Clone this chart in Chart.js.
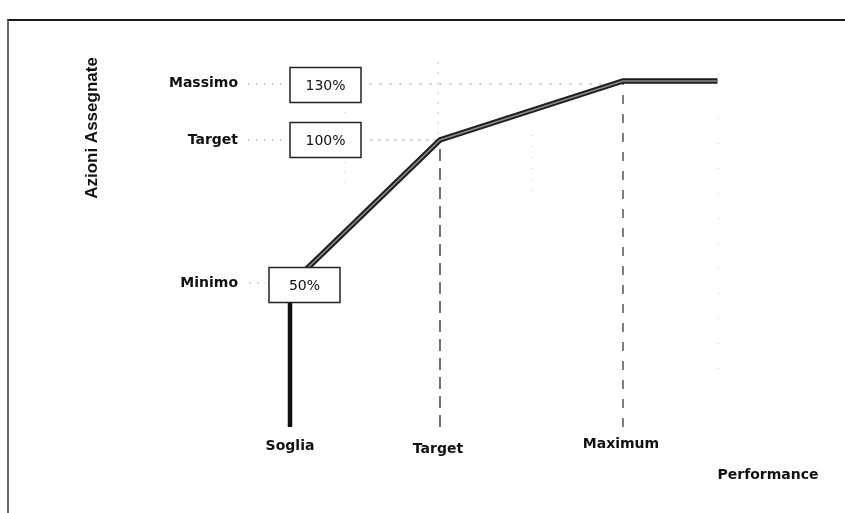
<!DOCTYPE html>
<html><head><meta charset="utf-8">
<script src="https://cdn.jsdelivr.net/npm/chart.js@4.4.1/dist/chart.umd.min.js"></script>
<style>
html,body{margin:0;padding:0;background:#fff;overflow:hidden}
#wrap{position:relative;width:845px;height:513px}
#frame{position:absolute;left:7px;top:19px;width:900px;height:600px;border-top:2px solid #1a1a1a;border-left:2px solid #666;pointer-events:none}
</style></head><body>
<div id="wrap"><canvas id="c" width="845" height="513"></canvas><div id="frame"></div></div>
<script>
// ---- data ----
const categories = ['Soglia', 'Target', 'Maximum'];
const perfLevels = [0, 1, 2.22];       // performance (Soglia=0, Target=1)
const perfCap = 2.85;                  // end of the flat cap
const payoutLevels = [50, 100, 130];   // azioni assegnate, %
const payoutNames = ['Minimo', 'Target', 'Massimo'];
const payoutLabels = ['50%', '100%', '130%'];
const yTitle = 'Azioni Assegnate';
const xTitle = 'Performance';

// ---- schematic (non-linear) vertical scale ----
const yBreaks = [[0, 0.0325], [50, 0.3875], [100, 0.75], [130, 0.8975]];
function interp(v, pts, a, b) {
  let i = 0;
  while (i < pts.length - 2 && v > pts[i + 1][a]) i++;
  const p0 = pts[i], p1 = pts[i + 1];
  return p0[b] + (v - p0[a]) * (p1[b] - p0[b]) / (p1[a] - p0[a]);
}
class PiecewiseScale extends Chart.LinearScale {
  getPixelForValue(value) { return this.getPixelForDecimal(interp(value, yBreaks, 0, 1)); }
  getValueForPixel(pixel) { return interp(this.getDecimalForPixel(pixel), yBreaks, 1, 0); }
}
PiecewiseScale.id = 'piecewise';
PiecewiseScale.defaults = Chart.LinearScale.defaults;
Chart.register(PiecewiseScale);

const curve = perfLevels.map((x, i) => ({x, y: payoutLevels[i]})).concat([{x: perfCap, y: payoutLevels[2]}]);
const sogliaLine = [{x: perfLevels[0], y: 0}, {x: perfLevels[0], y: payoutLevels[0]}];
const targetLine = [{x: perfLevels[1], y: 0}, {x: perfLevels[1], y: payoutLevels[1]}];
const maxLine = [{x: perfLevels[2], y: 0}, {x: perfLevels[2], y: payoutLevels[2]}];

const FONT = '"DejaVu Sans", sans-serif';

function dotted(ctx, x1, y1, x2, y2, color, dash) {
  ctx.save();
  ctx.strokeStyle = color; ctx.lineWidth = 1; ctx.setLineDash(dash);
  ctx.beginPath(); ctx.moveTo(x1, y1); ctx.lineTo(x2, y2); ctx.stroke();
  ctx.restore();
}

const annot = {
  id: 'annot',
  beforeDatasetsDraw(chart) {
    const {ctx, scales: {x, y}} = chart;
    const sx = x.getPixelForValue(perfLevels[0]);
    const faint = '#b0b0b0';
    const py = payoutLevels.map(v => y.getPixelForValue(v));
    dotted(ctx, sx - 42, py[2] + 3, sx - 8, py[2] + 3, faint, [2, 6]);
    dotted(ctx, sx + 79, py[2] + 3, x.getPixelForValue(perfLevels[2]) - 8, py[2] + 3, faint, [3, 7]);
    dotted(ctx, sx - 42, py[1], sx - 8, py[1], faint, [2, 6]);
    dotted(ctx, sx + 80, py[1], x.getPixelForValue(perfLevels[1]) - 4, py[1], faint, [3, 5]);
    dotted(ctx, sx - 41, py[0] - 2, sx - 24, py[0] - 2, faint, [2, 6]);
    const vf = '#c4c4c4';
    dotted(ctx, sx + 55, 112, sx + 55, 186, vf, [1, 9]);
    dotted(ctx, x.getPixelForValue(perfLevels[1]) - 2, 62, x.getPixelForValue(perfLevels[1]) - 2, 134, vf, [2, 8]);
    dotted(ctx, 532, 135, 532, 192, vf, [1, 10]);
    dotted(ctx, x.getPixelForValue(perfCap) + 1, 118, x.getPixelForValue(perfCap) + 1, 372, vf, [1, 24]);
  },
  afterDatasetsDraw(chart) {
    const {ctx, scales: {x, y}} = chart;
    const sx = x.getPixelForValue(perfLevels[0]);
    ctx.save();
    payoutLevels.forEach((v, i) => {
      const py = y.getPixelForValue(v);
      const left = i === 0 ? sx - 21 : sx;
      const cy = i === 2 ? py + 4 : py;
      const w = 71, h = 35;
      ctx.fillStyle = '#fff';
      ctx.fillRect(left, cy - h / 2, w, h);
      ctx.strokeStyle = '#222'; ctx.lineWidth = 1.5; ctx.setLineDash([]);
      ctx.strokeRect(left, cy - h / 2, w, h);
      ctx.fillStyle = '#111';
      ctx.font = '14px ' + FONT;
      ctx.textAlign = 'center'; ctx.textBaseline = 'middle';
      ctx.fillText(payoutLabels[i], left + w / 2, cy + 1);
      ctx.font = 'bold 14px ' + FONT;
      ctx.textAlign = 'right';
      ctx.fillText(payoutNames[i], sx - 52, i === 2 ? py + 2 : (i === 0 ? py - 2 : py));
    });
    ctx.font = 'bold 14px ' + FONT;
    ctx.textAlign = 'center'; ctx.textBaseline = 'middle';
    const ly = [446, 449, 444];
    categories.forEach((c, i) => {
      ctx.fillText(c, x.getPixelForValue(perfLevels[i]) - (i ? 2 : 0), ly[i]);
    });
    ctx.fillText(xTitle, 768, 475);
    ctx.font = 'bold 17px "Liberation Sans", Arial, sans-serif';
    ctx.translate(92, 128);
    ctx.rotate(-Math.PI / 2);
    ctx.fillText(yTitle, 0, 0);
    ctx.restore();
  }
};

new Chart(document.getElementById('c'), {
  type: 'line',
  data: {
    datasets: [
      {data: curve, borderColor: '#8a8a8a', borderWidth: 1.6, pointRadius: 0, tension: 0},
      {data: curve, borderColor: '#1e1e1e', borderWidth: 5.5, pointRadius: 0, tension: 0},
      {data: sogliaLine, borderColor: '#111', borderWidth: 4.5, pointRadius: 0, borderCapStyle: 'butt'},
      {data: targetLine, borderColor: '#444', borderWidth: 1.5, pointRadius: 0, borderDash: [12, 7]},
      {data: maxLine, borderColor: '#555', borderWidth: 1.5, pointRadius: 0, borderDash: [9, 10]}
    ]
  },
  options: {
    responsive: false,
    devicePixelRatio: 1,
    animation: false,
    layout: {padding: {left: 245, right: 80, top: 40, bottom: 73}},
    plugins: {legend: {display: false}, tooltip: {enabled: false}},
    scales: {
      x: {type: 'linear', min: -0.3, max: 3.1667, display: false},
      y: {type: 'piecewise', min: 0, max: 140, display: false}
    },
    elements: {line: {fill: false}}
  },
  plugins: [annot]
});
</script>
</body></html>
